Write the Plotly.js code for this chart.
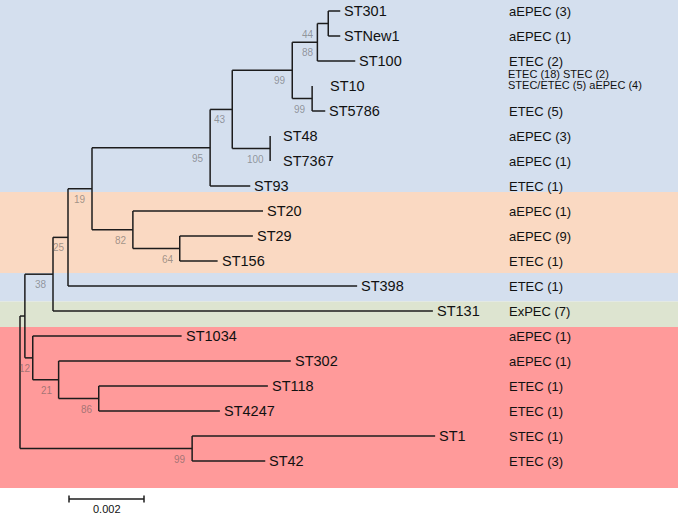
<!DOCTYPE html>
<html>
<head>
<meta charset="utf-8">
<script src="https://cdn.plot.ly/plotly-3.0.1.min.js"></script>
<style>html,body{margin:0;padding:0;background:#fff;}#chart{width:680px;height:519px;}</style>
</head>
<body>
<div id="chart"></div>
<script>
// ---- Tree data (preorder), branch lengths in substitutions/site ----
const nodeNames = ['root','A','B','C','D','E','F','G','H','I','ST301','STNew1','ST100','J','ST10','ST5786','K','ST48','ST7367','ST93','L','ST20','M','ST29','ST156','ST398','ST131','N','ST1034','O','ST302','P','ST118','ST4247','Q','ST1','ST42'];
const parentNames = [null,'root','A','B','C','D','E','F','G','H','I','I','H','G','J','J','F','K','K','E','D','L','L','M','M','C','B','A','N','N','O','O','P','P','root','Q','Q'];
const branchLengths = [0,0.00013,0.00075,0.00040,0.00064,0.00315,0.00059,0.00160,0.00067,0.00029,0.00032,0.00032,0.00101,0.00053,0,0.00035,0.00101,0,0,0.00107,0.00109,0.00347,0.00125,0.00195,0.00101,0.00771,0.01013,0.00021,0.00397,0.00069,0.00619,0.00107,0.00451,0.00323,0.00459,0.00648,0.00195];
const bootstrapValues = [null,null,38,25,19,95,43,99,88,44,null,null,null,99,null,null,100,null,null,null,82,null,64,null,null,null,null,12,null,21,null,86,null,null,99,null,null];

// ---- Isolate pathotype labels ----
const typeLeaves = ['ST301','STNew1','ST100','ST10','ST5786','ST48','ST7367','ST93','ST20','ST29','ST156','ST398','ST131','ST1034','ST302','ST118','ST4247','ST1','ST42'];
const typeLabels = ['aEPEC (3)','aEPEC (1)','ETEC (2)','ETEC (18) STEC (2)|STEC/ETEC (5) aEPEC (4)','ETEC (5)','aEPEC (3)','aEPEC (1)','ETEC (1)','aEPEC (1)','aEPEC (9)','ETEC (1)','ETEC (1)','ExPEC (7)','aEPEC (1)','aEPEC (1)','ETEC (1)','ETEC (1)','STEC (1)','ETEC (3)'];

// ---- Coloured clade bands (row boundaries) ----
const bandStarts = [-0.44, 7.24, 10.48, 11.62, 12.64];
const bandEnds   = [7.24, 10.48, 11.62, 12.64, 19.08];
const bandColors = ['#d4dfee','#fad9c2','#d4dfee','#dde4d0','#ff9a9a'];

const scaleBarLength = 0.002;

// ---- layout computation ----
const children = {};
nodeNames.forEach(n => children[n] = []);
nodeNames.forEach((n, i) => { if (parentNames[i]) children[parentNames[i]].push(n); });
const X = {}, Y = {};
let leafIdx = 0;
function place(n, px) {
  const i = nodeNames.indexOf(n);
  X[n] = px + branchLengths[i];
  const ch = children[n];
  if (ch.length === 0) { Y[n] = leafIdx++; }
  else {
    ch.forEach(c => place(c, X[n]));
    Y[n] = (Y[ch[0]] + Y[ch[ch.length - 1]]) / 2;
  }
}
place('root', 0);

const xs = [], ys = [];
nodeNames.forEach((n, i) => {
  const p = parentNames[i];
  if (p) { xs.push(X[p], X[n], null); ys.push(Y[n], Y[n], null); }
  const ch = children[n];
  if (ch.length) { xs.push(X[n], X[n], null); ys.push(Y[ch[0]], Y[ch[ch.length - 1]], null); }
});

const pxPerUnit = 75 / scaleBarLength;
const xRange = [-20 / pxPerUnit, 660 / pxPerUnit];
const yRange = [20.32, -0.44];

const FONT = 'Liberation Sans, Arial, sans-serif';
const annotations = [];
// leaf names
const leafShift = {ST10: 16};
nodeNames.forEach((n, i) => {
  if (children[n].length === 0) {
    annotations.push({x: X[n], y: Y[n], xref: 'x', yref: 'y', text: n, showarrow: false,
      xanchor: 'left', yanchor: 'middle', xshift: (n in leafShift ? leafShift[n] : (branchLengths[i] === 0 ? 11 : 2)),
      font: {family: FONT, size: 14.5, color: '#111'}});
  }
});
// bootstrap values
const bsShift = {I: -12, H: -1, C: -1, N: 0};
nodeNames.forEach((n, i) => {
  if (bootstrapValues[i] !== null) {
    annotations.push({x: X[n], y: Y[n], xref: 'x', yref: 'y', text: String(bootstrapValues[i]), showarrow: false,
      xanchor: 'right', yanchor: 'middle', xshift: (n in bsShift ? bsShift[n] : -4), yshift: -10.5,
      font: {family: FONT, size: 10, color: 'rgba(85,85,85,0.55)'}});
  }
});
// pathotype labels
typeLeaves.forEach((leaf, k) => {
  const parts = typeLabels[k].split('|');
  if (parts.length === 1) {
    annotations.push({x: 508 / 680, y: Y[leaf], xref: 'paper', yref: 'y', text: parts[0], showarrow: false,
      xanchor: 'left', yanchor: 'middle', xshift: -1, font: {family: FONT, size: 13, color: '#111'}});
  } else {
    parts.forEach((t, j) => {
      annotations.push({x: 508 / 680, y: Y[leaf], xref: 'paper', yref: 'y', text: t, showarrow: false,
        xanchor: 'left', yanchor: 'middle', xshift: -1, yshift: 12 - 11 * j, borderpad: 0,
        font: {family: FONT, size: 11, color: '#111'}});
    });
  }
});
// scale bar label
const sbX0 = (69 - 20) / pxPerUnit;
annotations.push({x: sbX0 + scaleBarLength / 2, y: 19.92, xref: 'x', yref: 'y', text: String(scaleBarLength), showarrow: false,
  xanchor: 'center', yanchor: 'middle', font: {family: FONT, size: 11, color: '#111'}});

const shapes = bandStarts.map((s, i) => ({type: 'rect', xref: 'paper', yref: 'y', x0: 0, x1: 678 / 680,
  y0: s, y1: bandEnds[i], fillcolor: bandColors[i], line: {width: 0}, layer: 'below'}));

const traces = [
  {type: 'scatter', mode: 'lines', x: xs, y: ys, line: {color: '#1c1c1c', width: 1.5}, hoverinfo: 'skip', showlegend: false},
  {type: 'scatter', mode: 'lines',
   x: [sbX0, sbX0 + scaleBarLength, null, sbX0, sbX0, null, sbX0 + scaleBarLength, sbX0 + scaleBarLength],
   y: [19.52, 19.52, null, 19.38, 19.66, null, 19.38, 19.66],
   line: {color: '#1c1c1c', width: 1.5}, hoverinfo: 'skip', showlegend: false}
];

const layout = {
  width: 680, height: 519,
  margin: {l: 0, r: 0, t: 0, b: 0},
  paper_bgcolor: '#fff', plot_bgcolor: 'rgba(0,0,0,0)',
  xaxis: {range: xRange, visible: false, fixedrange: true},
  yaxis: {range: yRange, visible: false, fixedrange: true},
  shapes: shapes, annotations: annotations, showlegend: false
};
Plotly.newPlot('chart', traces, layout, {displayModeBar: false, staticPlot: true});
</script>
</body>
</html>
